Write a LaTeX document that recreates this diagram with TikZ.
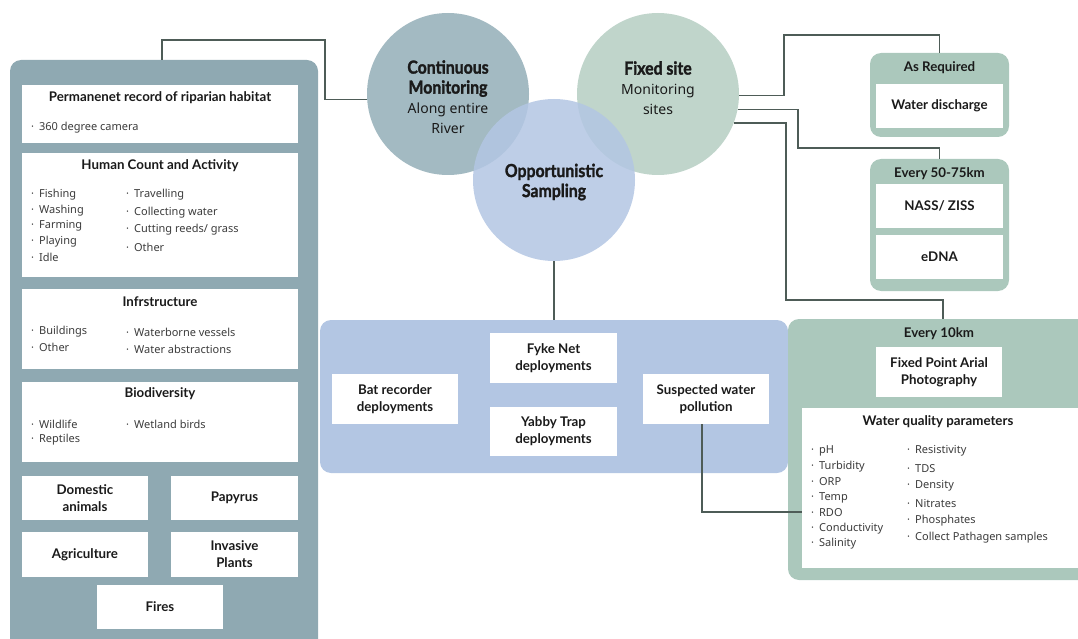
\documentclass[tikz,border=0pt]{standalone}
\usepackage{fontspec}
\setmainfont{Lato}
\newfontfamily\itemfont{Noto Sans}
\newfontfamily\heavyfont{Lato}[BoldFeatures={FakeBold=1.6, FakeStretch=0.88}]
\usetikzlibrary{positioning}
\definecolor{habitatgray}{HTML}{8FA9B2}
\definecolor{contblue}{HTML}{A3BAC2}
\definecolor{fixedgreen}{HTML}{C0D5CB}
\definecolor{oppblue}{HTML}{B3C6E3}
\definecolor{panelgreen}{HTML}{ABC8BC}
\definecolor{linegray}{HTML}{4E5C57}
\definecolor{itemgray}{HTML}{3C3C3C}
\definecolor{titleblack}{HTML}{1A1A1A}
\newcommand\ringtitle[1]{{\heavyfont\bfseries\fontsize{18}{20}\selectfont #1}}

\begin{document}
\begin{tikzpicture}[x=1pt,y=-1pt,
  line/.style={draw=linegray, line width=1.5pt},
  panel/.style={rounded corners=11pt, inner sep=0pt},
  wbox/.style={fill=white, inner sep=0pt, align=center, text=titleblack,
    font=\bfseries\fontsize{13.3}{17}\selectfont},
  head/.style={inner sep=0pt, align=center, text=titleblack,
    font=\bfseries\fontsize{13.3}{17}\selectfont},
  item/.style={anchor=west, inner sep=0pt, text=itemgray,
    font=\itemfont\fontsize{11}{13}\selectfont},
  ring/.style={circle, minimum size=162pt, inner sep=0pt},
  ringtext/.style={inner sep=0pt, align=center, text=titleblack,
    font=\itemfont\fontsize{14}{20}\selectfont}]
\useasboundingbox (0,0) rectangle (1078,639);

% habitat panel on the left
\node[panel, fill=habitatgray, minimum width=308pt, minimum height=600pt] (habitat) at (164,360) {};
\node[wbox, minimum width=276pt, minimum height=58pt] (perm) at (160,114) {};
\node[head] (perm-t) at (160,98) {Permanenet record of riparian habitat};
\node[item] (perm-i) at (31,128) {·\hspace{5pt}360 degree camera};

\node[wbox, minimum width=276pt, minimum height=124pt] (human) at (160,215) {};
\node[head] (human-t) at (160,166) {Human Count and Activity};
\foreach \t [count=\i] in {Fishing,Washing,Farming,Playing,Idle}
  \node[item] (human-l\i) at (31,{195+15.5*(\i-1)}) {·\hspace{5pt}\t};
\foreach \t [count=\i] in {Travelling,Collecting water,Cutting reeds/ grass,Other}
  \node[item] (human-r\i) at (126,{195+17.3*(\i-1)}) {·\hspace{5pt}\t};

\node[wbox, minimum width=276pt, minimum height=80pt] (infra) at (160,329) {};
\node[head] (infra-t) at (160,302) {Infrstructure};
\foreach \t [count=\i] in {Buildings,Other}
  \node[item] (infra-l\i) at (31,{332+15.5*(\i-1)}) {·\hspace{5pt}\t};
\foreach \t [count=\i] in {Waterborne vessels,Water abstractions}
  \node[item] (infra-r\i) at (126,{332+17*(\i-1)}) {·\hspace{5pt}\t};

\node[wbox, minimum width=276pt, minimum height=80pt] (bio) at (160,422) {};
\node[head] (bio-t) at (160,394) {Biodiversity};
\foreach \t [count=\i] in {Wildlife,Reptiles}
  \node[item] (bio-l\i) at (31,{424+15.5*(\i-1)}) {·\hspace{5pt}\t};
\node[item] (bio-r1) at (126,424) {·\hspace{5pt}Wetland birds};

\node[wbox, minimum width=126pt, minimum height=44pt] (domestic) at (85,498) {Domestic\\animals};
\node[wbox, minimum width=127pt, minimum height=44pt] (papyrus) at (234.5,498) {Papyrus};
\node[wbox, minimum width=126pt, minimum height=45pt] (agri) at (85,554.5) {Agriculture};
\node[wbox, minimum width=127pt, minimum height=45pt] (invasive) at (234.5,554.5) {Invasive\\Plants};
\node[wbox, minimum width=126pt, minimum height=44pt] (fires) at (160,607) {Fires};

% three circles
\node[ring, fill=contblue] (cont) at (448,94) {};
\node[ring, fill=fixedgreen] (fixed) at (658,94) {};
\node[ring, fill=oppblue, fill opacity=0.85] (opp) at (554,180) {};
\node[ringtext] (cont-t) at (448,97)
  {\ringtitle{Continuous}\\\ringtitle{Monitoring}\\Along entire\\River};
\node[ringtext] (fixed-t) at (658,88)
  {\ringtitle{Fixed site}\\Monitoring\\sites};
\node[ringtext] (opp-t) at (554,182)
  {\ringtitle{Opportunistic}\\\ringtitle{Sampling}};

% opportunistic sampling panel
\node[panel, fill=oppblue, minimum width=468pt, minimum height=153pt] (oppanel) at (554,396.5) {};
\node[wbox, minimum width=126pt, minimum height=50pt] (bat) at (395,399) {Bat recorder\\deployments};
\node[wbox, minimum width=127pt, minimum height=50pt] (fyke) at (553.5,358) {Fyke Net\\deployments};
\node[wbox, minimum width=127pt, minimum height=49pt] (yabby) at (553.5,431.5) {Yabby Trap\\deployments};
\node[wbox, minimum width=126pt, minimum height=50pt] (pollution) at (706,399) {Suspected water\\pollution};

% fixed site panels
\node[panel, fill=panelgreen, minimum width=139pt, minimum height=84pt] (asreq) at (939.5,95) {};
\node[head] (asreq-t) at (939.5,68) {As Required};
\node[wbox, minimum width=127pt, minimum height=44pt] (discharge) at (939.5,106) {Water discharge};

\node[panel, fill=panelgreen, minimum width=139pt, minimum height=132pt] (every50) at (939.5,225) {};
\node[head] (every50-t) at (939.5,174) {Every 50-75km};
\node[wbox, minimum width=127pt, minimum height=44pt] (nass) at (939.5,206) {NASS/ ZISS};
\node[wbox, minimum width=127pt, minimum height=44pt] (edna) at (939.5,257) {eDNA};

\node[panel, fill=panelgreen, minimum width=310pt, minimum height=261pt] (every10) at (943,449.5) {};
\node[head] (every10-t) at (939,334) {Every 10km};
\node[wbox, minimum width=126pt, minimum height=50pt] (photo) at (939,372) {Fixed Point Arial\\Photography};
\node[wbox, minimum width=282pt, minimum height=160pt] (wq) at (943,488) {};
\node[head] (wq-t) at (938,422) {Water quality parameters};
\foreach \t [count=\i] in {pH,Turbidity,ORP,Temp,RDO,Conductivity,Salinity}
  \node[item] (wq-l\i) at (811,{451+15.5*(\i-1)}) {·\hspace{5pt}\t};
\foreach \t [count=\i] in {Resistivity,TDS,Density,Nitrates,Phosphates,Collect Pathagen samples}
  \node[item] (wq-r\i) at (907,{451+17.4*(\i-1)}) {·\hspace{5pt}\t};

% connectors
\draw[line] ([xshift=-2pt]habitat.north) |- (325,40) |- (cont.184);
\draw[line] (opp.south) -- (oppanel.north);
\draw[line] ([xshift=-4pt]pollution.south) |- ([yshift=-24pt]wq.west);
\draw[line] (fixed.-1.5) -| (784,35) -| (asreq.north);
\draw[line] (fixed.-11) -| (798,148) -| (every50.north);
\draw[line] (fixed.-21) -| (786,300) -| (every10.north);
\end{tikzpicture}
\end{document}
